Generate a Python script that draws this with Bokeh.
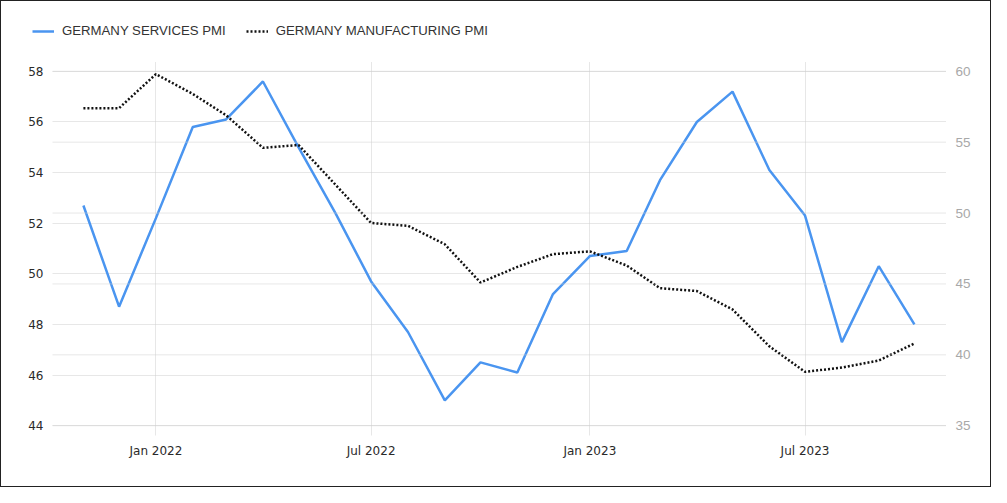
import datetime as dt
from bokeh.plotting import figure
from bokeh.layouts import column
from bokeh.models import (Range1d, LinearAxis, FixedTicker, DatetimeTickFormatter,
                          Legend, LegendItem, ColumnDataSource, Span)
from bokeh.embed import file_html
from bokeh.resources import INLINE

months = []
y, m = 2021, 11
for _ in range(24):
    months.append(dt.datetime(y, m, 1))
    m += 1
    if m > 12:
        m = 1
        y += 1

services_pmi = [52.7, 48.7, 52.2, 55.8, 56.1, 57.6, 55.0, 52.4, 49.7, 47.7, 45.0, 46.5,
                46.1, 49.2, 50.7, 50.9, 53.7, 56.0, 57.2, 54.1, 52.3, 47.3, 50.3, 48.0]
manufacturing_pmi = [57.4, 57.4, 59.8, 58.4, 56.9, 54.6, 54.8, 52.0, 49.3, 49.1, 47.8, 45.1,
                     46.2, 47.1, 47.3, 46.3, 44.7, 44.5, 43.2, 40.6, 38.8, 39.1, 39.6, 40.8]
series_names = ["GERMANY SERVICES PMI", "GERMANY MANUFACTURING PMI"]
left_ticks = [44, 46, 48, 50, 52, 54, 56, 58]
right_ticks = [35, 40, 45, 50, 55, 60]
x_tick_dates = [dt.datetime(2022, 1, 1), dt.datetime(2022, 7, 1),
                dt.datetime(2023, 1, 1), dt.datetime(2023, 7, 1)]

FONT = "Liberation Sans"
AXFONT = "DejaVu Sans"
GRID = "#cfcfcf"
BLUE = "#4a95f0"
BLACK = "#111111"
W = 989
HEAD_H = 46
MAIN_H = 485 - HEAD_H

src = ColumnDataSource(dict(x=months, s=services_pmi, m=manufacturing_pmi))

# ---------- header with legend ----------
head = figure(width=W, height=HEAD_H, output_backend="svg", toolbar_location=None,
              x_range=Range1d(0, W), y_range=Range1d(0, HEAD_H),
              x_axis_location=None, y_axis_location=None,
              min_border=0, min_border_left=0, min_border_right=0,
              min_border_top=0, min_border_bottom=0)
head.frame_align = False
head.outline_line_color = None
head.grid.visible = False
# same series drawn off-screen in the header only to supply legend glyphs
h1 = head.line("x", "s", source=src, line_color=BLUE, line_width=2.5)
h2 = head.line("x", "m", source=src, line_color=BLACK, line_width=2.5, line_dash="2 2")
legend = Legend(items=[LegendItem(label=series_names[0], renderers=[h1]),
                       LegendItem(label=series_names[1], renderers=[h2])],
                orientation="horizontal", location=(31, 9),
                label_text_font=FONT, label_text_font_size="13.2px",
                label_text_color="#333333", border_line_color=None,
                background_fill_alpha=0, glyph_width=22, glyph_height=14,
                label_height=14, spacing=20, label_standoff=8, padding=0, margin=0)
head.add_layout(legend, "center")

# ---------- main chart ----------
p = figure(width=W, height=MAIN_H, output_backend="svg", toolbar_location=None,
           x_axis_type="datetime",
           x_range=Range1d(dt.datetime(2021, 10, 6), dt.datetime(2023, 10, 28)),
           y_range=Range1d(43.61, 58.39),
           min_border_left=51, min_border_right=44, min_border_top=60 - HEAD_H,
           min_border_bottom=51)
p.frame_align = False
p.outline_line_color = None
p.extra_y_ranges = {"mfg": Range1d(34.31, 60.69)}

p.line("x", "s", source=src, line_color=BLUE, line_width=2.5)
p.line("x", "m", source=src, y_range_name="mfg", line_color=BLACK,
       line_width=2.5, line_dash="2 2")

p.xaxis.ticker = FixedTicker(ticks=[d.timestamp() * 1000 for d in x_tick_dates])
p.xaxis.formatter = DatetimeTickFormatter(months="%b %Y", days="%b %Y", years="%b %Y")
p.yaxis.ticker = FixedTicker(ticks=left_ticks)
for ax in [p.xaxis[0], p.yaxis[0]]:
    ax.axis_line_color = None
    ax.major_tick_line_color = None
    ax.minor_tick_line_color = None
    ax.major_label_text_font = AXFONT
    ax.major_label_text_font_size = "12px"
    ax.major_label_text_color = "#2a2a2a"
p.xaxis.major_label_standoff = 2
p.yaxis.major_label_standoff = 3

ra = LinearAxis(y_range_name="mfg", ticker=FixedTicker(ticks=right_ticks))
ra.axis_line_color = None
ra.major_tick_line_color = None
ra.minor_tick_line_color = None
ra.major_label_text_font = FONT
ra.major_label_text_font_size = "13.5px"
ra.major_label_text_color = "#a8a8a8"
ra.major_label_standoff = 3
p.add_layout(ra, "right")

p.xgrid.grid_line_color = GRID
p.xgrid.grid_line_dash = "1 1"
p.ygrid.grid_line_color = GRID
p.ygrid.grid_line_dash = "1 1"
for t in right_ticks:
    p.add_layout(Span(location=t, dimension="width", line_color=GRID, line_dash="1 1",
                      line_width=1, y_range_name="mfg"))

layout = column(head, p, spacing=0, styles={"border": "1px solid #222"})

open("out.html", "w").write(file_html(layout, INLINE))
